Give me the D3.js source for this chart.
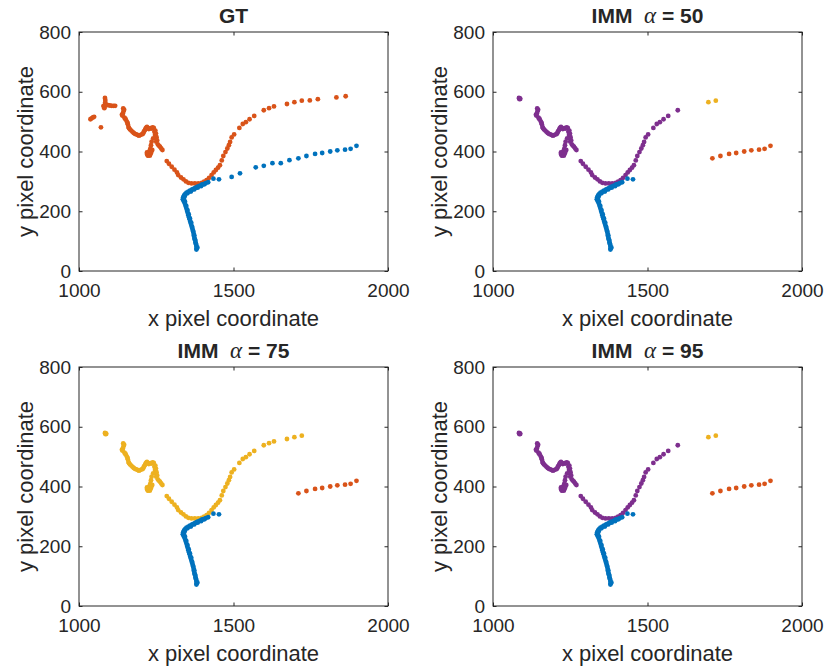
<!DOCTYPE html>
<html>
<head>
<meta charset="utf-8">
<script src="https://cdn.jsdelivr.net/npm/d3@7"></script>
<style>
  html, body { margin: 0; padding: 0; background: #fff; }
  svg { display: block; }
  text { font-family: "Liberation Sans", Arial, Helvetica, sans-serif; fill: #262626; }
</style>
</head>
<body>
<svg id="chart" width="825" height="670"></svg>
<script>
// ---------- data ----------
const xTicks = [1000, 1500, 2000];
const yTicks = [0, 200, 400, 600, 800];
const xLabel = "x pixel coordinate";
const yLabel = "y pixel coordinate";

// track 1 (blue in GT): dense start, sparse middle, tail
const blueMain = [[1381,76],[1380,72],[1383,79],[1380,82],[1379,89],[1378,92],[1377,96],[1376,103],[1375,106],[1374,110],[1372,117],[1373,120],[1371,124],[1370,131],[1369,134],[1368,138],[1366,145],[1366,148],[1364,152],[1362,159],[1363,162],[1360,166],[1358,173],[1359,176],[1356,180],[1354,187],[1355,190],[1352,194],[1350,201],[1351,204],[1348,208],[1346,215],[1347,218],[1344,222],[1341,229],[1343,232],[1338,236],[1340,238],[1336,240],[1339,242],[1337,246],[1342,249],[1340,253],[1344,258],[1351,260],[1348,262],[1354,266],[1362,266],[1359,269],[1365,272],[1373,273],[1370,275],[1376,278],[1384,279],[1381,281],[1386,283],[1395,284],[1392,286],[1397,289],[1406,290],[1402,291],[1410,294],[1418,297],[1435,309],[1453,307]];
const blueMid = [[1494,315],[1521,327],[1572,347],[1598,352],[1626,361],[1653,361],[1681,371]];
const blueTail = [[1710,377],[1736,385],[1764,392],[1787,395],[1813,400],[1836,404],[1861,406],[1879,409],[1898,419]];

// track 2 (orange in GT)
const orangeHead = [[1037,508],[1041,511],[1045,514],[1049,516],[1071,481],[1084,579],[1085,572],[1085,565],[1084,558],[1083,551],[1082,545],[1079,552],[1088,555],[1094,555],[1100,554],[1106,553],[1112,553],[1117,553]];
const orangeBody = [[1143,544],[1146,540],[1144,535],[1142,527],[1139,523],[1141,520],[1147,513],[1150,510],[1151,507],[1155,500],[1157,496],[1158,491],[1160,482],[1162,478],[1165,474],[1169,470],[1173,466],[1177,462],[1181,459],[1186,457],[1190,455],[1194,453],[1198,455],[1203,457],[1207,459],[1209,464],[1211,468],[1214,473],[1216,477],[1218,480],[1220,482],[1226,475],[1230,478],[1235,477],[1238,481],[1242,479],[1244,466],[1247,470],[1246,455],[1249,460],[1248,444],[1251,448],[1250,433],[1253,437],[1255,424],[1258,420],[1262,416],[1266,410],[1270,405],[1240,444],[1235,433],[1233,421],[1231,410],[1237,405],[1228,401],[1224,394],[1230,390],[1222,388],[1227,392],[1225,389],[1220,392],[1223,386],[1229,386],[1232,393],[1226,398],[1220,397],[1234,398],[1284,368],[1291,359],[1300,349],[1309,339],[1317,330],[1321,321],[1330,313],[1338,307],[1346,300],[1354,295],[1364,293],[1375,293],[1386,293],[1397,295],[1405,299],[1413,304],[1421,312],[1429,321],[1436,330],[1443,338],[1450,346],[1456,354],[1462,370],[1467,385],[1474,398],[1480,410],[1485,421],[1489,432],[1494,447],[1502,457],[1519,479],[1530,492],[1540,498],[1552,508],[1567,519],[1598,538]];
const orangeTail1 = [[1615,545],[1631,551],[1673,559],[1697,565],[1721,570]];
const orangeTail2 = [[1747,571],[1773,575],[1833,581],[1863,585]];

// IMM-specific pieces
const immStart = [[1085,577],[1087,578],[1086,575],[1084,579],[1088,576]];
const imm50Yellow = [[1697,565],[1721,570]];

const C = { blue: "#0072BD", orange: "#D95319", yellow: "#EDB120", purple: "#7E2F8E" };

const panels = [
  { title: "GT", alpha: null, left: 79, top: 32,
    series: [
      { pts: orangeHead.concat(orangeBody, orangeTail1, orangeTail2), color: C.orange },
      { pts: blueMain.concat(blueMid, blueTail), color: C.blue }
    ] },
  { title: "IMM", alpha: "50", left: 493, top: 32,
    series: [
      { pts: immStart.concat(orangeBody), color: C.purple },
      { pts: imm50Yellow, color: C.yellow },
      { pts: blueTail, color: C.orange },
      { pts: blueMain, color: C.blue }
    ] },
  { title: "IMM", alpha: "75", left: 79, top: 367,
    series: [
      { pts: immStart.concat(orangeBody, orangeTail1), color: C.yellow },
      { pts: blueTail, color: C.orange },
      { pts: blueMain, color: C.blue }
    ] },
  { title: "IMM", alpha: "95", left: 493, top: 367,
    series: [
      { pts: immStart.concat(orangeBody), color: C.purple },
      { pts: imm50Yellow, color: C.yellow },
      { pts: blueTail, color: C.orange },
      { pts: blueMain, color: C.blue }
    ] }
];

// ---------- drawing ----------
const W = 309, H = 239;
const svg = d3.select("#chart");
const x = d3.scaleLinear().domain([1000, 2000]).range([0, W]);
const y = d3.scaleLinear().domain([0, 800]).range([H, 0]);

panels.forEach(p => {
  const g = svg.append("g").attr("transform", `translate(${p.left},${p.top})`);

  // points
  p.series.forEach(s => {
    g.append("g").selectAll("circle").data(s.pts).join("circle")
      .attr("cx", d => x(d[0])).attr("cy", d => y(d[1]))
      .attr("r", 2.4).attr("fill", s.color);
  });

  // axes (inward ticks on all four sides)
  const styleAxis = sel => {
    sel.select(".domain").remove();
    sel.selectAll(".tick line").attr("stroke", "#262626").attr("stroke-width", 1);
    sel.selectAll(".tick text").attr("font-size", 19).attr("fill", "#262626")
      .attr("font-family", '"Liberation Sans", Arial, sans-serif');
  };
  g.append("g").attr("transform", `translate(0,${H})`)
    .call(d3.axisBottom(x).tickValues(xTicks).tickSize(-3.5).tickPadding(13).tickFormat(d3.format("d")))
    .call(styleAxis);
  g.append("g")
    .call(d3.axisTop(x).tickValues(xTicks).tickSize(-3.5).tickFormat(""))
    .call(styleAxis);
  g.append("g")
    .call(d3.axisLeft(y).tickValues(yTicks).tickSize(-3.5).tickPadding(8).tickFormat(d3.format("d")))
    .call(styleAxis);
  g.append("g").attr("transform", `translate(${W},0)`)
    .call(d3.axisRight(y).tickValues(yTicks).tickSize(-3.5).tickFormat(""))
    .call(styleAxis);

  g.append("rect").attr("x", 0).attr("y", 0).attr("width", W).attr("height", H)
    .attr("fill", "none").attr("stroke", "#262626").attr("stroke-width", 1);

  // labels
  g.append("text").attr("x", W / 2).attr("y", H + 55).attr("text-anchor", "middle")
    .attr("font-size", 22).text(xLabel);
  g.append("text").attr("transform", `translate(-46,${H / 2}) rotate(-90)`)
    .attr("text-anchor", "middle").attr("font-size", 22).text(yLabel);

  // title
  const t = g.append("text").attr("x", W / 2).attr("y", -9).attr("text-anchor", "middle")
    .attr("font-size", 21).attr("font-weight", "bold").attr("fill", "#000");
  if (p.alpha === null) {
    t.text(p.title);
  } else {
    t.append("tspan").text(p.title + "\u00A0\u00A0");
    t.append("tspan").attr("font-family", '"Liberation Serif", "DejaVu Serif", serif')
      .attr("font-style", "italic").attr("font-weight", "normal").attr("font-size", 23).text("\u03B1");
    t.append("tspan").text(" = " + p.alpha);
  }
});
</script>
</body>
</html>
